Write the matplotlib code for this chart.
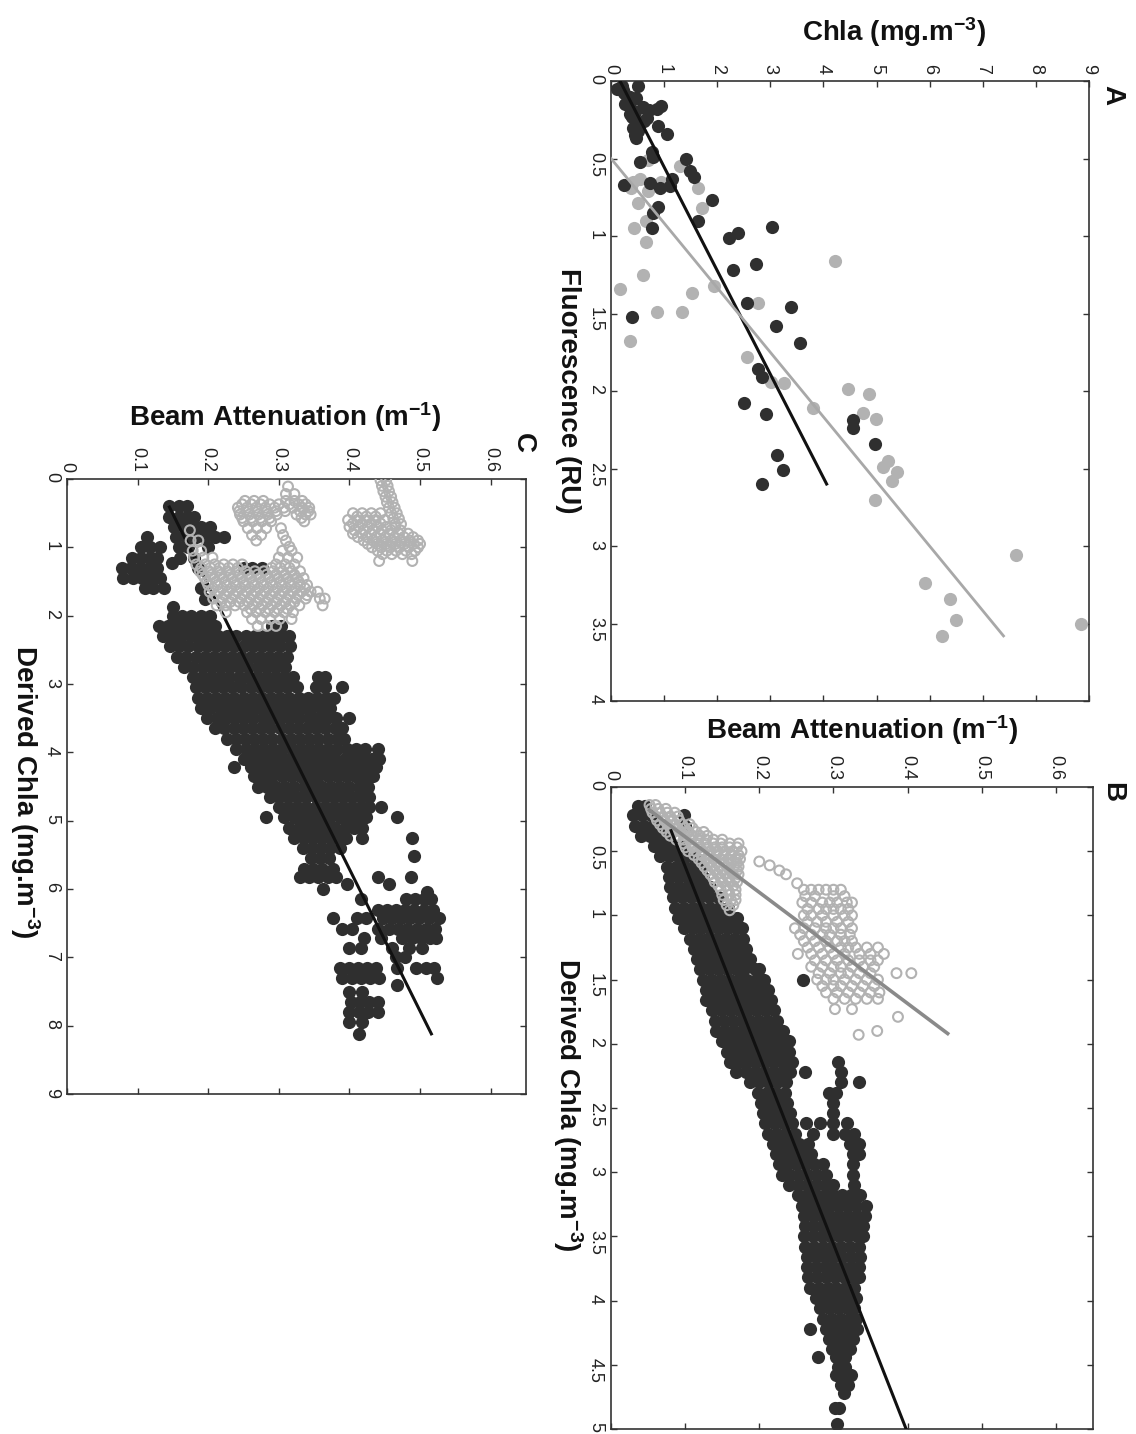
import numpy as np
import matplotlib.pyplot as plt

plt.rcParams['font.family'] = ['Liberation Sans', 'DejaVu Sans']
plt.rcParams['mathtext.fontset'] = 'custom'
plt.rcParams['mathtext.rm'] = 'Liberation Sans'
plt.rcParams['mathtext.bf'] = 'Liberation Sans:bold'
plt.rcParams['mathtext.default'] = 'regular'

DARK = '#2f2f2f'
LIGHT = '#b2b2b2'

# ---- Panel A: fluorescence (RU) vs Chla (mg.m-3) ----
a_dark_fluor = [0.03, 0.03, 0.14, 0.11, 0.21, 0.17, 0.27, 0.37, 0.16, 0.18, 0.29, 0.34, 0.30, 0.15,
                0.24, 0.46, 0.49, 0.52, 0.50, 0.58, 0.62, 0.63, 0.68, 0.69, 0.66, 0.67, 0.77, 0.81,
                0.85, 0.95, 0.90, 0.94, 1.01, 0.98, 1.18, 1.22, 1.43, 1.46, 1.52, 1.58, 1.69, 1.86,
                1.91, 2.08, 2.15, 2.19, 2.24, 2.34, 2.41, 2.51, 2.60, 0.08, 0.10, 0.20, 0.23, 0.12,
                0.06, 0.26, 0.32, 0.19, 0.35, 0.05]
a_dark_chla = [0.20, 0.50, 0.30, 0.48, 0.36, 0.60, 0.55, 0.48, 0.95, 0.86, 0.88, 1.05, 0.42, 0.26,
               0.67, 0.77, 0.80, 0.55, 1.41, 1.49, 1.57, 1.14, 1.11, 0.92, 0.73, 0.24, 1.90, 0.88,
               0.80, 0.77, 1.63, 3.03, 2.23, 2.40, 2.73, 2.30, 2.57, 3.38, 0.39, 3.10, 3.55, 2.76,
               2.84, 2.50, 2.92, 4.55, 4.55, 4.97, 3.13, 3.23, 2.84, 0.25, 0.35, 0.45, 0.40, 0.40,
               0.22, 0.62, 0.50, 0.72, 0.45, 0.12]
a_light_fluor = [0.51, 0.55, 0.63, 0.65, 0.69, 0.71, 0.65, 0.69, 0.82, 0.79, 0.90, 0.95, 1.04, 1.16,
                 1.25, 1.34, 1.37, 1.32, 1.43, 1.49, 1.49, 1.68, 1.78, 1.94, 1.95, 1.99, 2.02, 2.11,
                 2.14, 2.18, 2.45, 2.49, 2.52, 2.58, 2.70, 3.06, 3.24, 3.34, 3.48, 3.58, 3.50]
a_light_chla = [0.69, 1.29, 0.55, 0.42, 0.37, 0.70, 0.94, 1.63, 1.71, 0.50, 0.66, 0.44, 0.66, 4.22,
                0.60, 0.17, 1.52, 1.93, 2.76, 0.87, 1.34, 0.36, 2.57, 3.01, 3.26, 4.47, 4.86, 3.81,
                4.75, 4.99, 5.22, 5.13, 5.38, 5.29, 4.97, 7.62, 5.91, 6.38, 6.50, 6.23, 8.85]
a_fit_dark_fluor = [0.0, 2.6]
a_fit_dark_chla = [0.17, 4.06]
a_fit_light_fluor = [0.5, 3.58]
a_fit_light_chla = [0.0, 7.39]

# ---- Panel B: derived Chla (mg.m-3) vs beam attenuation (m-1), rows of (chla, [beam...]) ----
b_dark_rows = [
    (0.15, [0.036, 0.046]),
    (0.22, [0.030, 0.042, 0.054, 0.098]),
    (0.30, [0.033, 0.045, 0.057, 0.068, 0.100]),
    (0.38, [0.040, 0.052, 0.064, 0.075]),
    (0.46, [0.058, 0.070, 0.082, 0.094]),
    (0.54, [0.066, 0.078, 0.090, 0.102, 0.112]),
    (0.62, [0.075, 0.087, 0.099, 0.111, 0.120]),
    (0.70, [0.078, 0.090, 0.102, 0.114, 0.124]),
    (0.78, [0.080, 0.092, 0.104, 0.116, 0.128, 0.134]),
    (0.86, [0.084, 0.096, 0.108, 0.120, 0.132, 0.144]),
    (0.94, [0.086, 0.098, 0.110, 0.122, 0.134, 0.146, 0.158]),
    (1.02, [0.090, 0.102, 0.114, 0.126, 0.138, 0.150, 0.162, 0.170]),
    (1.10, [0.098, 0.110, 0.122, 0.134, 0.146, 0.158, 0.170, 0.176]),
    (1.18, [0.106, 0.118, 0.130, 0.142, 0.154, 0.166, 0.178]),
    (1.26, [0.112, 0.124, 0.136, 0.148, 0.160, 0.172, 0.182]),
    (1.34, [0.116, 0.128, 0.140, 0.152, 0.164, 0.176, 0.188]),
    (1.42, [0.120, 0.132, 0.144, 0.156, 0.168, 0.180, 0.194, 0.200]),
    (1.50, [0.124, 0.136, 0.148, 0.160, 0.172, 0.184, 0.196, 0.206, 0.259]),
    (1.58, [0.128, 0.140, 0.152, 0.164, 0.176, 0.188, 0.200, 0.212]),
    (1.66, [0.128, 0.132, 0.144, 0.156, 0.168, 0.180, 0.192, 0.204, 0.216]),
    (1.74, [0.136, 0.148, 0.160, 0.172, 0.184, 0.196, 0.208, 0.220]),
    (1.82, [0.140, 0.152, 0.164, 0.176, 0.188, 0.200, 0.212, 0.224]),
    (1.90, [0.142, 0.154, 0.166, 0.178, 0.190, 0.202, 0.214, 0.226, 0.232]),
    (1.98, [0.150, 0.162, 0.174, 0.186, 0.198, 0.210, 0.222, 0.234, 0.240]),
    (2.06, [0.156, 0.168, 0.180, 0.192, 0.204, 0.216, 0.228, 0.240]),
    (2.14, [0.160, 0.172, 0.184, 0.196, 0.208, 0.220, 0.232, 0.244, 0.306]),
    (2.22, [0.168, 0.182, 0.194, 0.206, 0.218, 0.230, 0.242, 0.262, 0.310]),
    (2.30, [0.188, 0.200, 0.212, 0.224, 0.236, 0.310, 0.334]),
    (2.38, [0.198, 0.210, 0.222, 0.234, 0.294, 0.304]),
    (2.46, [0.202, 0.214, 0.226, 0.238, 0.300]),
    (2.54, [0.205, 0.217, 0.229, 0.241, 0.300]),
    (2.62, [0.208, 0.220, 0.232, 0.244, 0.263, 0.282, 0.300, 0.318]),
    (2.70, [0.212, 0.224, 0.236, 0.248, 0.272, 0.300, 0.316, 0.328]),
    (2.78, [0.218, 0.230, 0.242, 0.254, 0.266, 0.322, 0.334]),
    (2.86, [0.222, 0.234, 0.246, 0.258, 0.270, 0.326, 0.334]),
    (2.94, [0.226, 0.238, 0.250, 0.262, 0.274, 0.286, 0.326]),
    (3.02, [0.230, 0.242, 0.254, 0.266, 0.278, 0.290, 0.326]),
    (3.10, [0.240, 0.252, 0.264, 0.276, 0.288, 0.300, 0.328]),
    (3.18, [0.252, 0.264, 0.276, 0.288, 0.300, 0.312, 0.324, 0.336]),
    (3.26, [0.258, 0.270, 0.282, 0.294, 0.306, 0.318, 0.330, 0.344]),
    (3.34, [0.260, 0.272, 0.284, 0.296, 0.308, 0.320, 0.332, 0.342]),
    (3.42, [0.262, 0.274, 0.286, 0.298, 0.310, 0.322, 0.334, 0.340]),
    (3.50, [0.260, 0.272, 0.284, 0.296, 0.308, 0.320, 0.332, 0.340]),
    (3.58, [0.262, 0.274, 0.286, 0.298, 0.310, 0.322, 0.334]),
    (3.66, [0.264, 0.276, 0.288, 0.300, 0.312, 0.324, 0.336]),
    (3.74, [0.264, 0.276, 0.288, 0.300, 0.312, 0.324, 0.334]),
    (3.82, [0.266, 0.278, 0.290, 0.302, 0.314, 0.326, 0.334]),
    (3.90, [0.268, 0.280, 0.292, 0.304, 0.316, 0.328]),
    (3.98, [0.276, 0.288, 0.300, 0.312, 0.324, 0.330]),
    (4.06, [0.282, 0.294, 0.306, 0.318, 0.328]),
    (4.14, [0.286, 0.298, 0.310, 0.322, 0.330]),
    (4.22, [0.268, 0.290, 0.302, 0.314, 0.326, 0.332]),
    (4.30, [0.294, 0.306, 0.318, 0.326]),
    (4.38, [0.298, 0.310, 0.322]),
    (4.44, [0.279, 0.304, 0.316]),
    (4.52, [0.306, 0.316]),
    (4.58, [0.304, 0.314, 0.324]),
    (4.66, [0.310, 0.320]),
    (4.72, [0.314]),
    (4.84, [0.302, 0.308]),
    (4.96, [0.305]),
]
b_light_rows = [
    (0.14, [0.052, 0.060]),
    (0.17, [0.054, 0.064, 0.074]),
    (0.20, [0.056, 0.066, 0.076, 0.086]),
    (0.23, [0.060, 0.070, 0.080, 0.090]),
    (0.26, [0.062, 0.072, 0.082, 0.092]),
    (0.29, [0.066, 0.076, 0.086, 0.096, 0.106]),
    (0.32, [0.070, 0.080, 0.090, 0.100, 0.110]),
    (0.35, [0.075, 0.085, 0.095, 0.105, 0.115, 0.125]),
    (0.38, [0.080, 0.090, 0.100, 0.110, 0.120, 0.130]),
    (0.41, [0.088, 0.098, 0.108, 0.118, 0.128, 0.138, 0.150]),
    (0.44, [0.098, 0.108, 0.118, 0.128, 0.138, 0.148, 0.160, 0.172]),
    (0.47, [0.100, 0.110, 0.120, 0.130, 0.140, 0.150, 0.160, 0.170]),
    (0.50, [0.104, 0.114, 0.124, 0.134, 0.144, 0.154, 0.164, 0.176]),
    (0.53, [0.112, 0.122, 0.132, 0.142, 0.152, 0.162, 0.172]),
    (0.56, [0.118, 0.128, 0.138, 0.148, 0.158, 0.168, 0.174]),
    (0.58, [0.200]),
    (0.59, [0.122, 0.132, 0.142, 0.152, 0.162, 0.170]),
    (0.61, [0.214]),
    (0.62, [0.126, 0.136, 0.146, 0.156, 0.166, 0.172]),
    (0.65, [0.130, 0.140, 0.150, 0.160, 0.170, 0.227]),
    (0.68, [0.134, 0.144, 0.154, 0.164, 0.172, 0.236]),
    (0.71, [0.138, 0.148, 0.158, 0.168]),
    (0.74, [0.140, 0.150, 0.160, 0.170]),
    (0.75, [0.251]),
    (0.77, [0.145, 0.155, 0.165]),
    (0.80, [0.148, 0.158, 0.168, 0.260, 0.270, 0.280, 0.290, 0.300, 0.310]),
    (0.84, [0.150, 0.160, 0.168]),
    (0.85, [0.262, 0.275, 0.300, 0.315]),
    (0.88, [0.152, 0.162, 0.168]),
    (0.90, [0.258, 0.270, 0.285, 0.295, 0.305, 0.318, 0.325]),
    (0.92, [0.156, 0.165]),
    (0.95, [0.265, 0.280, 0.290, 0.300, 0.310, 0.320]),
    (0.96, [0.160]),
    (1.00, [0.260, 0.270, 0.285, 0.300, 0.315, 0.325]),
    (1.05, [0.265, 0.278, 0.290, 0.305, 0.320]),
    (1.10, [0.248, 0.260, 0.275, 0.290, 0.300, 0.310, 0.325]),
    (1.15, [0.255, 0.270, 0.285, 0.295, 0.310, 0.322]),
    (1.20, [0.260, 0.275, 0.290, 0.305, 0.315, 0.325]),
    (1.25, [0.265, 0.280, 0.295, 0.310, 0.320, 0.330, 0.345, 0.360]),
    (1.30, [0.252, 0.270, 0.285, 0.300, 0.315, 0.335, 0.350, 0.368]),
    (1.35, [0.275, 0.290, 0.305, 0.320, 0.335, 0.350, 0.360]),
    (1.40, [0.270, 0.285, 0.300, 0.310, 0.325, 0.340, 0.355]),
    (1.45, [0.280, 0.295, 0.310, 0.320, 0.335, 0.350, 0.385, 0.405]),
    (1.50, [0.278, 0.290, 0.300, 0.315, 0.330, 0.345, 0.360]),
    (1.55, [0.285, 0.300, 0.310, 0.325, 0.340, 0.355]),
    (1.60, [0.290, 0.305, 0.320, 0.335, 0.350, 0.362]),
    (1.65, [0.300, 0.315, 0.330, 0.345, 0.360]),
    (1.73, [0.302, 0.325]),
    (1.79, [0.387]),
    (1.90, [0.359]),
    (1.93, [0.334]),
]
b_fit_dark_chla = [0.34, 5.0]
b_fit_dark_beam = [0.081, 0.398]
b_fit_light_chla = [0.18, 1.92]
b_fit_light_beam = [0.052, 0.454]

# ---- Panel C: derived Chla (mg.m-3) vs beam attenuation (m-1) ----
c_dark_rows = [
    (0.40, [0.145, 0.158, 0.170]),
    (0.55, [0.145, 0.158, 0.170, 0.180]),
    (0.70, [0.152, 0.165, 0.178, 0.190, 0.203]),
    (0.85, [0.113, 0.155, 0.168, 0.182, 0.196, 0.210, 0.222]),
    (1.00, [0.105, 0.118, 0.132, 0.158, 0.172, 0.200]),
    (1.15, [0.092, 0.105, 0.118, 0.128, 0.160, 0.180]),
    (1.23, [0.148]),
    (1.30, [0.078, 0.090, 0.103, 0.116, 0.128, 0.185, 0.250, 0.262, 0.276]),
    (1.45, [0.080, 0.093, 0.106, 0.119, 0.131]),
    (1.60, [0.110, 0.122, 0.138, 0.190]),
    (1.75, [0.195]),
    (1.87, [0.150]),
    (2.00, [0.150, 0.163, 0.176, 0.190, 0.203]),
    (2.15, [0.130, 0.143, 0.156, 0.169, 0.182, 0.196, 0.210, 0.290, 0.303]),
    (2.30, [0.136, 0.149, 0.162, 0.175, 0.188, 0.201, 0.214, 0.227, 0.240, 0.253, 0.266, 0.279,
            0.292, 0.305, 0.315]),
    (2.45, [0.146, 0.159, 0.172, 0.185, 0.198, 0.211, 0.224, 0.237, 0.250, 0.263, 0.276, 0.289,
            0.302, 0.316]),
    (2.60, [0.156, 0.169, 0.182, 0.195, 0.208, 0.221, 0.234, 0.247, 0.260, 0.273, 0.286, 0.299,
            0.312]),
    (2.75, [0.166, 0.179, 0.192, 0.205, 0.218, 0.231, 0.244, 0.257, 0.270, 0.283, 0.296, 0.309]),
    (2.90, [0.178, 0.191, 0.204, 0.217, 0.230, 0.243, 0.256, 0.269, 0.282, 0.295, 0.308, 0.320,
            0.355, 0.366]),
    (3.05, [0.182, 0.195, 0.208, 0.221, 0.234, 0.247, 0.260, 0.273, 0.286, 0.299, 0.312, 0.325,
            0.352, 0.365, 0.390]),
    (3.20, [0.185, 0.198, 0.211, 0.224, 0.237, 0.250, 0.263, 0.276, 0.289, 0.302, 0.315, 0.328,
            0.341, 0.354, 0.367, 0.378]),
    (3.35, [0.190, 0.203, 0.216, 0.229, 0.242, 0.255, 0.268, 0.281, 0.294, 0.307, 0.320, 0.333,
            0.346, 0.359, 0.372]),
    (3.50, [0.198, 0.212, 0.225, 0.238, 0.251, 0.264, 0.277, 0.290, 0.303, 0.316, 0.329, 0.342,
            0.355, 0.368, 0.381, 0.400]),
    (3.65, [0.210, 0.223, 0.236, 0.249, 0.262, 0.275, 0.288, 0.301, 0.314, 0.327, 0.340, 0.353,
            0.366, 0.379, 0.390]),
    (3.80, [0.226, 0.239, 0.252, 0.265, 0.278, 0.291, 0.304, 0.317, 0.330, 0.343, 0.356, 0.369,
            0.382, 0.392]),
    (3.95, [0.240, 0.253, 0.266, 0.279, 0.292, 0.305, 0.318, 0.331, 0.344, 0.357, 0.370, 0.383,
            0.396, 0.409, 0.422, 0.440]),
    (4.10, [0.250, 0.263, 0.276, 0.289, 0.302, 0.315, 0.328, 0.341, 0.354, 0.367, 0.380, 0.393,
            0.406, 0.419, 0.432, 0.442]),
    (4.22, [0.237, 0.260, 0.273, 0.286, 0.299, 0.312, 0.325, 0.338, 0.351, 0.364, 0.377, 0.390,
            0.403, 0.416, 0.429, 0.437]),
    (4.35, [0.265, 0.278, 0.291, 0.304, 0.317, 0.330, 0.343, 0.356, 0.369, 0.382, 0.395, 0.408,
            0.421, 0.433]),
    (4.50, [0.270, 0.283, 0.296, 0.309, 0.322, 0.335, 0.348, 0.361, 0.374, 0.387, 0.400, 0.413,
            0.426]),
    (4.65, [0.287, 0.300, 0.313, 0.326, 0.339, 0.352, 0.365, 0.378, 0.391, 0.404, 0.417, 0.428]),
    (4.80, [0.300, 0.313, 0.326, 0.339, 0.352, 0.365, 0.378, 0.391, 0.404, 0.417, 0.428, 0.445]),
    (4.95, [0.282, 0.308, 0.321, 0.334, 0.347, 0.360, 0.373, 0.386, 0.399, 0.412, 0.423, 0.467]),
    (5.10, [0.315, 0.328, 0.341, 0.354, 0.367, 0.380, 0.393, 0.406, 0.418]),
    (5.25, [0.322, 0.335, 0.348, 0.361, 0.374, 0.387, 0.395, 0.418, 0.489]),
    (5.40, [0.334, 0.347, 0.360, 0.373, 0.386]),
    (5.52, [0.491]),
    (5.55, [0.345, 0.358, 0.371]),
    (5.70, [0.335, 0.348, 0.361, 0.376]),
    (5.82, [0.330, 0.343, 0.356, 0.369, 0.381, 0.440, 0.487]),
    (5.92, [0.397, 0.456]),
    (6.00, [0.362]),
    (6.05, [0.510]),
    (6.15, [0.416, 0.480, 0.493, 0.506, 0.515]),
    (6.30, [0.440, 0.453, 0.466, 0.479, 0.492, 0.505, 0.518]),
    (6.43, [0.376, 0.410, 0.423, 0.447, 0.460, 0.473, 0.486, 0.499, 0.512, 0.527]),
    (6.58, [0.390, 0.403, 0.440, 0.456, 0.469, 0.482, 0.495, 0.508, 0.521]),
    (6.72, [0.420, 0.445, 0.475, 0.488, 0.501, 0.514, 0.522]),
    (6.87, [0.400, 0.416, 0.460, 0.485, 0.503]),
    (7.00, [0.466, 0.478]),
    (7.15, [0.386, 0.399, 0.412, 0.425, 0.438, 0.468, 0.494, 0.508, 0.520]),
    (7.30, [0.390, 0.403, 0.416, 0.429, 0.442, 0.524]),
    (7.40, [0.468]),
    (7.50, [0.400, 0.418]),
    (7.65, [0.402, 0.415, 0.428, 0.440]),
    (7.80, [0.400, 0.413, 0.426, 0.440]),
    (7.95, [0.400, 0.418]),
    (8.12, [0.413]),
]
c_light_rows = [
    (0.02, [0.444, 0.452]),
    (0.10, [0.446, 0.454]),
    (0.11, [0.313]),
    (0.18, [0.448, 0.456]),
    (0.22, [0.310, 0.322]),
    (0.26, [0.451, 0.459]),
    (0.32, [0.252, 0.265, 0.278, 0.310, 0.322, 0.333]),
    (0.34, [0.453, 0.461]),
    (0.37, [0.248, 0.261, 0.274, 0.287, 0.300, 0.315, 0.328, 0.338]),
    (0.42, [0.242, 0.255, 0.268, 0.281, 0.294, 0.307, 0.320, 0.333, 0.343, 0.456, 0.464]),
    (0.47, [0.244, 0.257, 0.270, 0.283, 0.296, 0.309, 0.330, 0.342]),
    (0.50, [0.405, 0.418, 0.431, 0.444, 0.459, 0.467]),
    (0.52, [0.245, 0.258, 0.271, 0.284, 0.297, 0.325, 0.338, 0.345]),
    (0.55, [0.411, 0.424, 0.437]),
    (0.57, [0.248, 0.261, 0.274, 0.287, 0.332]),
    (0.58, [0.462, 0.470]),
    (0.60, [0.398, 0.411, 0.424, 0.437, 0.450]),
    (0.62, [0.250, 0.263, 0.276, 0.289, 0.336]),
    (0.65, [0.405, 0.418, 0.431, 0.444]),
    (0.66, [0.465, 0.473]),
    (0.70, [0.400, 0.413, 0.426, 0.439, 0.452, 0.465]),
    (0.72, [0.256, 0.269, 0.282, 0.303]),
    (0.75, [0.174, 0.407, 0.420, 0.433, 0.446, 0.459, 0.472]),
    (0.80, [0.405, 0.418, 0.431, 0.444, 0.457, 0.470, 0.483]),
    (0.82, [0.262, 0.275, 0.306]),
    (0.85, [0.412, 0.425, 0.438, 0.451, 0.464, 0.477, 0.490]),
    (0.90, [0.175, 0.186, 0.268, 0.310, 0.420, 0.433, 0.446, 0.459, 0.472, 0.485, 0.497]),
    (0.95, [0.426, 0.439, 0.452, 0.465, 0.478, 0.491, 0.500]),
    (0.99, [0.315]),
    (1.00, [0.432, 0.445, 0.458, 0.471, 0.484, 0.497]),
    (1.05, [0.178, 0.190, 0.305, 0.318, 0.440, 0.453, 0.466, 0.480, 0.493]),
    (1.10, [0.447, 0.460, 0.475, 0.488]),
    (1.15, [0.180, 0.193, 0.206, 0.300, 0.313, 0.326]),
    (1.20, [0.442, 0.489]),
    (1.25, [0.183, 0.196, 0.209, 0.222, 0.235, 0.248, 0.296, 0.309, 0.322]),
    (1.30, [0.190, 0.203, 0.216, 0.229, 0.242, 0.290, 0.302, 0.315]),
    (1.35, [0.188, 0.201, 0.214, 0.227, 0.240, 0.253, 0.266, 0.279, 0.292, 0.305, 0.318, 0.330]),
    (1.40, [0.192, 0.205, 0.218, 0.231, 0.244, 0.257, 0.270, 0.283, 0.296, 0.309, 0.322]),
    (1.45, [0.195, 0.208, 0.221, 0.234, 0.247, 0.260, 0.273, 0.286, 0.299, 0.312, 0.325, 0.335]),
    (1.50, [0.198, 0.211, 0.224, 0.237, 0.250, 0.263, 0.276, 0.289, 0.302, 0.315, 0.328]),
    (1.55, [0.200, 0.213, 0.226, 0.239, 0.252, 0.265, 0.278, 0.291, 0.304, 0.317, 0.330, 0.340]),
    (1.60, [0.207, 0.220, 0.233, 0.246, 0.259, 0.272, 0.285, 0.298, 0.311, 0.324, 0.337]),
    (1.65, [0.202, 0.215, 0.228, 0.241, 0.254, 0.267, 0.280, 0.293, 0.306, 0.319, 0.332, 0.345,
            0.355]),
    (1.70, [0.210, 0.223, 0.236, 0.249, 0.262, 0.275, 0.288, 0.301, 0.314, 0.327, 0.340]),
    (1.75, [0.207, 0.220, 0.233, 0.246, 0.259, 0.272, 0.285, 0.298, 0.311, 0.324, 0.338, 0.358,
            0.365]),
    (1.80, [0.218, 0.231, 0.244, 0.257, 0.270, 0.283, 0.296, 0.309, 0.322]),
    (1.85, [0.212, 0.225, 0.238, 0.251, 0.264, 0.277, 0.290, 0.303, 0.316, 0.329, 0.362]),
    (1.90, [0.260, 0.273, 0.286, 0.299, 0.312]),
    (1.95, [0.225, 0.255, 0.268, 0.281, 0.294, 0.307, 0.320]),
    (2.05, [0.262, 0.275, 0.288, 0.301, 0.318]),
    (2.15, [0.270, 0.283, 0.296]),
]
c_fit_chla = [0.41, 8.12]
c_fit_beam = [0.145, 0.516]


def unpack(rows):
    chla, beam = [], []
    for c, vals in rows:
        beam += vals
        chla += [c] * len(vals)
    return np.array(chla), np.array(beam)


def fmt(v):
    return ('%g' % v)


def style(ax, xticks, yticks, xmax, ymax):
    ax.set_xlim(0, xmax)
    ax.set_ylim(ymax, 0)
    ax.set_xticks(xticks)
    ax.set_xticklabels([fmt(v) for v in xticks])
    ax.set_yticks(yticks)
    ax.set_yticklabels([fmt(v) for v in yticks])
    ax.tick_params(direction='in', length=4, width=1, color='#333333', labelcolor='#222222',
                   labelsize=13, top=True, bottom=True, left=True, right=True,
                   labeltop=True, labelbottom=False, labelleft=True, labelright=False)
    ax.tick_params(axis='x', labelrotation=-90, pad=5)
    ax.tick_params(axis='y', labelrotation=-90, pad=5)
    for sp in ax.spines.values():
        sp.set_color('#333333')
        sp.set_linewidth(1.2)


W, H = 1136, 1434
fig = plt.figure(figsize=(W / 100, H / 100), dpi=100)


def box(x0, y0, x1, y1):
    return fig.add_axes([x0 / W, 1 - y1 / H, (x1 - x0) / W, (y1 - y0) / H])


def label(x, y, s, size=20, rot=0, weight='bold'):
    fig.text(x / W, 1 - y / H, s, ha='center', va='center', rotation=rot,
             fontsize=size, fontweight=weight, color='#111111')


DOT = 90
RING = 50

# Panel A
axA = box(611, 81, 1089, 701)
axA.scatter(a_light_chla, a_light_fluor, s=DOT, color=LIGHT, linewidths=0, zorder=2)
axA.scatter(a_dark_chla, a_dark_fluor, s=DOT, color=DARK, linewidths=0, zorder=3)
axA.plot(a_fit_dark_chla, a_fit_dark_fluor, color='#111111', lw=2.2, zorder=4)
axA.plot(a_fit_light_chla, a_fit_light_fluor, color='#a8a8a8', lw=2.0, zorder=4)
style(axA, list(range(10)), [0, 0.5, 1, 1.5, 2, 2.5, 3, 3.5, 4], 9, 4)

# Panel B
axB = box(611, 787, 1093, 1429)
bd_chla, bd_beam = unpack(b_dark_rows)
bl_chla, bl_beam = unpack(b_light_rows)
axB.scatter(bd_beam, bd_chla, s=DOT, color=DARK, linewidths=0, zorder=2)
axB.scatter(bl_beam, bl_chla, s=RING, facecolors='none', edgecolors=LIGHT, linewidths=1.5,
            zorder=3)
axB.plot(b_fit_dark_beam, b_fit_dark_chla, color='#111111', lw=2.2, zorder=4)
axB.plot(b_fit_light_beam, b_fit_light_chla, color='#8a8a8a', lw=2.6, zorder=4)
style(axB, [0, 0.1, 0.2, 0.3, 0.4, 0.5, 0.6],
      [0, 0.5, 1, 1.5, 2, 2.5, 3, 3.5, 4, 4.5, 5], 0.65, 5)

# Panel C
axC = box(67, 479, 526, 1094)
cd_chla, cd_beam = unpack(c_dark_rows)
cl_chla, cl_beam = unpack(c_light_rows)
axC.scatter(cd_beam, cd_chla, s=DOT, color=DARK, linewidths=0, zorder=2)
axC.plot(c_fit_beam, c_fit_chla, color='#111111', lw=2.2, zorder=3)
axC.scatter(cl_beam, cl_chla, s=RING, facecolors='none', edgecolors=LIGHT, linewidths=1.5,
            zorder=4)
style(axC, [0, 0.1, 0.2, 0.3, 0.4, 0.5, 0.6], list(range(10)), 0.65, 9)

# Axis titles and panel letters
label(894, 32, 'Chla (mg.m$^{-3}$)')
label(568, 391, 'Fluorescence (RU)', rot=-90)
label(1112, 95, 'A', size=20, rot=-90)
label(862, 730, 'Beam Attenuation (m$^{-1}$)')
label(568, 1105, 'Derived Chla (mg.m$^{-3}$)', rot=-90)
label(1112, 792, 'B', size=20, rot=-90)
label(285, 417, 'Beam Attenuation (m$^{-1}$)')
label(25, 792, 'Derived Chla (mg.m$^{-3}$)', rot=-90)
label(523, 443, 'C', size=20, rot=-90)

fig.savefig('out.png', dpi=100)
